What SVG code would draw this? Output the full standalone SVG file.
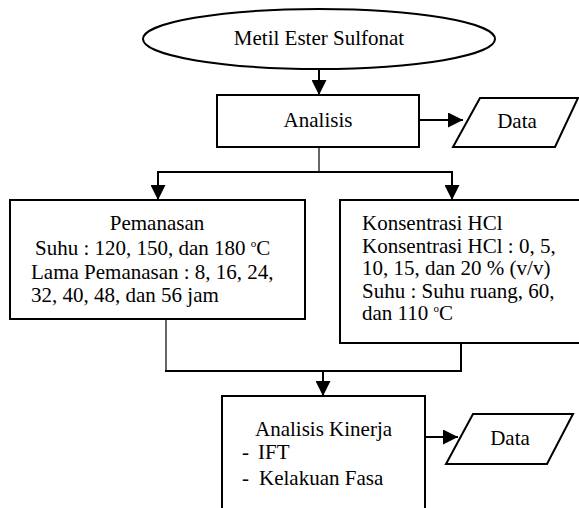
<svg xmlns="http://www.w3.org/2000/svg" width="579" height="508" viewBox="0 0 579 508">
<style>
.shape{fill:#fff;stroke:#000;stroke-width:2}
.t{font-family:"Liberation Serif","Times New Roman",serif;font-size:21px;fill:#000}
.c{text-anchor:middle}
.sup{font-size:11px}
.ln{fill:none;stroke:#000;stroke-width:2}
.thin{fill:none;stroke:#000;stroke-width:1.2}
</style>
<defs>
<marker id="ah" markerUnits="userSpaceOnUse" markerWidth="15" markerHeight="15" viewBox="0 0 15 15" refX="15" refY="7.5" orient="auto">
<path d="M0,0 L15,7.5 L0,15 z" fill="#000"/>
</marker>
</defs>
<rect width="579" height="508" fill="#fff"/>
<g id="connectors">
<path class="ln" d="M319,69 V95" marker-end="url(#ah)"/>
<path class="ln" d="M420,120 H463" marker-end="url(#ah)"/>
<path class="thin" d="M319,147 V172"/>
<path class="ln" d="M157,172 H453"/>
<path class="ln" d="M158,171 V200" marker-end="url(#ah)"/>
<path class="ln" d="M452,171 V200" marker-end="url(#ah)"/>
<path class="thin" d="M166,319 V371"/>
<path class="ln" d="M461,343 V372"/>
<path class="ln" d="M165,371 H462"/>
<path class="ln" d="M323,371 V396" marker-end="url(#ah)"/>
<path class="ln" d="M425,437 H458" marker-end="url(#ah)"/>
</g>
<g id="start">
<ellipse class="shape" cx="319" cy="39" rx="176" ry="30"/>
<text class="t c" x="319" y="45">Metil Ester Sulfonat</text>
</g>
<g id="analisis">
<rect class="shape" x="217" y="95" width="202" height="52"/>
<text class="t c" x="318" y="127">Analisis</text>
</g>
<g id="data1">
<polygon class="shape" points="480,98 578,98 555,147 453,147"/>
<text class="t c" x="517" y="128">Data</text>
</g>
<g id="pemanasan">
<rect class="shape" x="10" y="200" width="295" height="119"/>
<text class="t c" x="157" y="230">Pemanasan</text>
<text class="t" x="35" y="255">Suhu : 120, 150, dan 180 <tspan class="sup" dy="-8">o</tspan><tspan dy="8">C</tspan></text>
<text class="t" x="31" y="279">Lama Pemanasan : 8, 16, 24,</text>
<text class="t" x="31" y="302">32, 40, 48, dan 56 jam</text>
</g>
<g id="hcl">
<rect class="shape" x="340" y="200" width="260" height="143"/>
<text class="t" x="362" y="230">Konsentrasi HCl</text>
<text class="t" x="362" y="252.5">Konsentrasi HCl : 0, 5,</text>
<text class="t" x="362" y="275">10, 15, dan 20 % (v/v)</text>
<text class="t" x="362" y="297.5">Suhu : Suhu ruang, 60,</text>
<text class="t" x="362" y="320">dan 110 <tspan class="sup" dy="-8">o</tspan><tspan dy="8">C</tspan></text>
</g>
<g id="kinerja">
<rect class="shape" x="222" y="396" width="203" height="130"/>
<text class="t" x="255" y="436">Analisis Kinerja</text>
<text class="t" x="242" y="459">-</text>
<text class="t" x="258" y="459">IFT</text>
<text class="t" x="242" y="485">-</text>
<text class="t" x="259" y="485">Kelakuan Fasa</text>
</g>
<g id="data2">
<polygon class="shape" points="473,414 573,414 547,464 446,464"/>
<text class="t c" x="510" y="445">Data</text>
</g>
</svg>
